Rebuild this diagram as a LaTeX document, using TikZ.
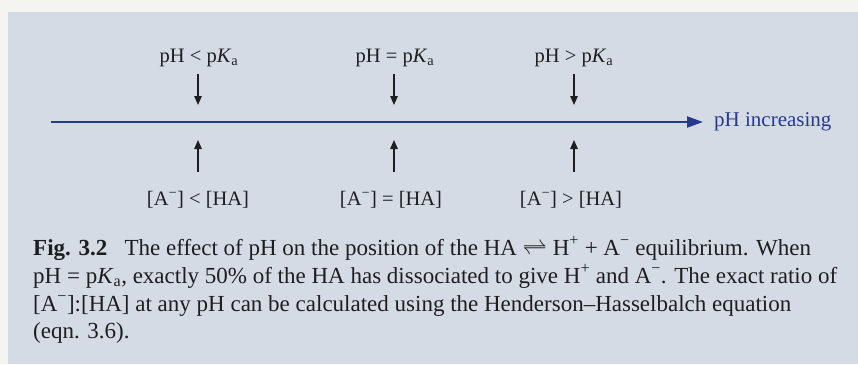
\documentclass[tikz,border=0pt]{standalone}
\usepackage{fontspec}
\setmainfont{Liberation Serif}
\usetikzlibrary{arrows.meta}
\definecolor{bgbox}{RGB}{213,219,229}
\definecolor{paper}{RGB}{244,244,240}
\definecolor{axisblue}{RGB}{38,58,140}
\definecolor{ink}{RGB}{30,30,32}
\tikzset{
  toplabel/.style={font=\fontsize{20.5}{22}\selectfont, anchor=base, text=ink, inner sep=0pt},
  pointer/.style={draw=ink, line width=1.3pt, -{Triangle[length=9pt,width=7.5pt]}},
  axisline/.style={draw=axisblue, line width=2pt, -{Triangle[length=16pt,width=11pt]}},
  captionline/.style={font=\fontsize{23}{28}\selectfont, anchor=base west, text=ink, inner sep=0pt}
}
\begin{document}
\begin{tikzpicture}[x=1pt,y=-1pt]
\useasboundingbox (0,0) rectangle (858,364);
\fill[paper] (0,0) rectangle (858,364);
\fill[bgbox] (8,12) rectangle (858,364);
% top labels
\node[toplabel] (t1) at (199,62) {pH < p\textit{K}\textsubscript{a}};
\node[toplabel] (t2) at (395,62) {pH = p\textit{K}\textsubscript{a}};
\node[toplabel] (t3) at (574,62) {pH > p\textit{K}\textsubscript{a}};
% bottom labels
\node[toplabel] (b1) at (198,205) {[A\textsuperscript{−}] < [HA]};
\node[toplabel] (b2) at (391,205) {[A\textsuperscript{−}] = [HA]};
\node[toplabel] (b3) at (571,205) {[A\textsuperscript{−}] > [HA]};
% pointer coordinates
\coordinate (d1s) at (198,74);  \coordinate (d1e) at (198,105);
\coordinate (d2s) at (394,74);  \coordinate (d2e) at (394,105);
\coordinate (d3s) at (574,74);  \coordinate (d3e) at (574,105);
\coordinate (u1s) at (198,172); \coordinate (u1e) at (198,140);
\coordinate (u2s) at (394,172); \coordinate (u2e) at (394,140);
\coordinate (u3s) at (574,172); \coordinate (u3e) at (574,140);
\draw[pointer] (d1s) -- (d1e);
\draw[pointer] (d2s) -- (d2e);
\draw[pointer] (d3s) -- (d3e);
\draw[pointer] (u1s) -- (u1e);
\draw[pointer] (u2s) -- (u2e);
\draw[pointer] (u3s) -- (u3e);
% axis
\coordinate (ls) at (51,122);
\coordinate (le) at (703,122);
\draw[axisline] (ls) -- (le);
\node[anchor=west, inner sep=0pt, text=axisblue, font=\fontsize{21}{23}\selectfont] (inc) at (714,122) {pH increasing};
% caption
\node[captionline] (c1) at (33,255) {\textbf{Fig. 3.2}\hspace{0.5em} The effect of pH on the position of the HA $\rightleftharpoons$ H\textsuperscript{+} + A\textsuperscript{−} equilibrium. When};
\node[captionline] (c2) at (33,283) {pH = p\textit{K}\textsubscript{a}, exactly 50\% of the HA has dissociated to give H\textsuperscript{+} and A\textsuperscript{−}. The exact ratio of};
\node[captionline] (c3) at (33,311) {[A\textsuperscript{−}]:[HA] at any pH can be calculated using the Henderson–Hasselbalch equation};
\node[captionline] (c4) at (33,338) {(eqn. 3.6).};
\end{tikzpicture}
\end{document}
